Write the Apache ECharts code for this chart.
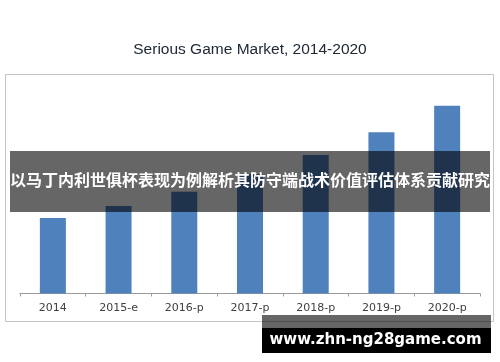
<!DOCTYPE html>
<html>
<head>
<meta charset="utf-8">
<script src="https://cdn.jsdelivr.net/npm/echarts@6/dist/echarts.min.js"></script>
<style>
html,body{margin:0;padding:0;background:#fff;}
#chart{width:500px;height:362px;}
</style>
</head>
<body>
<div id="chart"></div>
<script>
var titleText = 'Serious Game Market, 2014-2020';
var categories = ['2014', '2015-e', '2016-p', '2017-p', '2018-p', '2019-p', '2020-p'];
var marketValues = [3.78, 4.38, 5.09, 5.96, 6.93, 8.06, 9.39];
var bannerText = '以马丁内利世俱杯表现为例解析其防守端战术价值评估体系贡献研究';
var watermarkText = 'www.zhn-ng28game.com';

var chart = echarts.init(document.getElementById('chart'), null, {renderer: 'canvas'});
chart.setOption({
  animation: false,
  backgroundColor: '#ffffff',
  title: {
    text: titleText,
    left: 'center',
    top: 37,
    textStyle: {fontFamily: 'Liberation Sans, Arial, sans-serif', fontSize: 15.5, fontWeight: 'normal', color: '#202a36'}
  },
  grid: {left: 20, right: 20, top: 93.5, bottom: 68.5},
  xAxis: {
    type: 'category',
    data: categories,
    axisLine: {lineStyle: {color: '#9a9a9a', width: 1}},
    axisTick: {show: true, length: 3, lineStyle: {color: '#9a9a9a'}},
    axisLabel: {fontFamily: 'DejaVu Sans, Verdana, sans-serif', fontSize: 11, color: '#404040', margin: 9}
  },
  yAxis: {
    type: 'value', min: 0, max: 10, show: false,
    splitLine: {show: false}
  },
  series: [{
    type: 'bar',
    data: marketValues,
    barWidth: 26,
    itemStyle: {color: '#4f81bd'}
  }],
  graphic: [
    {type: 'rect', z: -1, silent: true, shape: {x: 5.5, y: 74.5, width: 488, height: 247}, style: {fill: 'none', stroke: '#c4c4c4', lineWidth: 1}},
    {type: 'rect', z: 100, silent: true, shape: {x: 10, y: 151, width: 480, height: 61}, style: {fill: 'rgba(0,0,0,0.6)'}},
    {type: 'text', z: 101, silent: true, left: 'center', top: 172, style: {text: bannerText, fill: '#ffffff', font: 'bold 16px "Noto Sans CJK SC", sans-serif'}},
    {type: 'rect', z: 100, silent: true, shape: {x: 262, y: 315, width: 229, height: 13}, style: {fill: 'rgba(0,0,0,0.6)'}},
    {type: 'rect', z: 100, silent: true, shape: {x: 262, y: 328, width: 229, height: 25}, style: {fill: '#000000'}},
    {type: 'text', z: 101, silent: true, x: 375.5, y: 340.5, style: {text: watermarkText, fill: '#ffffff', font: 'bold 15px "DejaVu Sans", Verdana, sans-serif', align: 'center', verticalAlign: 'middle'}}
  ]
});
</script>
</body>
</html>
